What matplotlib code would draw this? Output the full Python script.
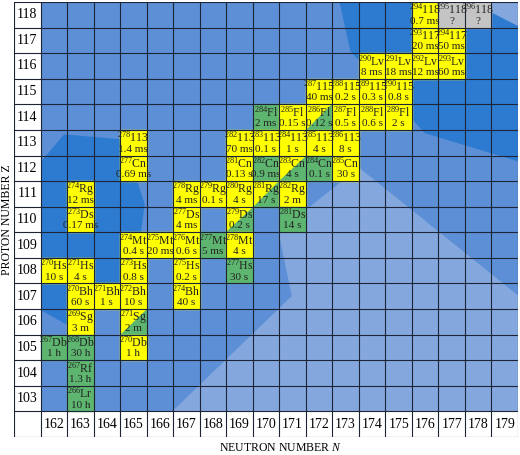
import matplotlib
matplotlib.use("Agg")
import matplotlib.pyplot as plt
from matplotlib.patches import Rectangle, Polygon

plt.rcParams['mathtext.fontset'] = 'custom'
plt.rcParams['mathtext.rm'] = 'Liberation Serif'
plt.rcParams['mathtext.it'] = 'Liberation Serif:italic'

N_ticks = list(range(162, 180))
Z_ticks = list(range(103, 119))

cell_N = [176,177,178, 176,177, 174,175,176,177, 172,173,174,175,
          170,171,172,173,174,175, 165,169,170,171,172,173,
          165,169,170,171,172,173, 163,167,168,169,170,171,
          163,167,169,171, 165,166,167,168,169,
          162,163,165,167,169, 163,164,165,167, 163,165,
          162,163,165, 163, 163]
cell_Z = [118]*3 + [117]*2 + [116]*4 + [115]*4 + [114]*6 + [113]*6 + [112]*6 + \
         [111]*6 + [110]*4 + [109]*5 + [108]*5 + [107]*4 + [106]*2 + [105]*3 + [104] + [103]
cell_A = [294,295,296, 293,294, 290,291,292,293, 287,288,289,290,
          284,285,286,287,288,289, 278,282,283,284,285,286,
          277,281,282,283,284,285, 274,278,279,280,281,282,
          273,277,279,281, 274,275,276,277,278,
          270,271,273,275,277, 270,271,272,274, 269,271,
          267,268,270, 267, 266]
cell_el = ["118","118","118", "117","117", "Lv","Lv","Lv","Lv", "115","115","115","115",
           "Fl","Fl","Fl","Fl","Fl","Fl", "113","113","113","113","113","113",
           "Cn","Cn","Cn","Cn","Cn","Cn", "Rg","Rg","Rg","Rg","Rg","Rg",
           "Ds","Ds","Ds","Ds", "Mt","Mt","Mt","Mt","Mt",
           "Hs","Hs","Hs","Hs","Hs", "Bh","Bh","Bh","Bh", "Sg","Sg",
           "Db","Db","Db", "Rf", "Lr"]
cell_t = ["0.7 ms","?","?", "20 ms","50 ms", "8 ms","18 ms","12 ms","60 ms",
          "40 ms","0.2 s","0.3 s","0.8 s",
          "2 ms","0.15 s","0.12 s","0.5 s","0.6 s","2 s",
          "1.4 ms","70 ms","0.1 s","1 s","4 s","8 s",
          "0.69 ms","0.13 s","0.9 ms","4 s","0.1 s","30 s",
          "12 ms","4 ms","0.1 s","4 s","17 s","2 m",
          "0.17 ms","4 ms","0.2 s","14 s",
          "0.4 s","20 ms","0.6 s","5 ms","4 s",
          "10 s","4 s","0.8 s","0.2 s","30 s",
          "60 s","1 s","10 s","40 s", "3 m","2 m",
          "1 h","30 h","1 h", "1.3 h", "10 h"]
cell_type = ["a","u","u", "a","a", "a","a","a","a", "a","a","a","a",
             "f","a","m","a","a","a", "a","a","a","a","a","a",
             "a","a","f","m","f","a", "a","a","a","a","m","a",
             "a","a","m","f", "a","a","a","f","a",
             "a","a","a","a","f", "a","a","a","a", "a","m",
             "f","f","a", "f", "f"]

YEL = "#ffff00"; GRN = "#5db56f"; GRY = "#c4c4c4"
BASE = "#5c8fd6"; DARK = "#2d7bd0"; LIGHT = "#84a8de"
SERIF = "Liberation Serif"

fig = plt.figure(figsize=(5.2, 4.55), dpi=100)
ax = fig.add_axes([14/520, 1 - 437/455, 504/520, 435/455])
x0, x1 = 160.5, 179.5
y0, y1 = 101.5, 118.5
ax.set_xlim(x0, x1); ax.set_ylim(y0, y1)
ax.axis("off")

ax.add_patch(Rectangle((161.5, 102.5), 18, 16, color=BASE, zorder=0))
ax.add_patch(Polygon([(166.5, 102.5), (171, 107.0), (170.5, 109.5), (173.5, 112.0),
                      (179.5, 107.0), (179.5, 102.5)], closed=True, color=LIGHT, zorder=0.5))
ax.add_patch(Polygon([(172.8, 118.5), (173.2, 116.6), (176.0, 113.4), (179.5, 112.3),
                      (179.5, 118.5)], closed=True, color=DARK, zorder=0.6))
ax.add_patch(Polygon([(177.8, 118.5), (179.5, 118.5), (179.5, 117.6)], closed=True,
                     color=LIGHT, zorder=0.7))
ax.add_patch(Polygon([(161.5, 106.5), (161.5, 112.2), (162.4, 113.3), (164.6, 113.1),
                      (165.4, 110.6), (165.1, 108.2), (163.8, 106.8), (162.7, 105.8)],
                     closed=True, color=DARK, zorder=0.6))

for n in N_ticks:
    ax.add_patch(Rectangle((n - 0.5, 101.5), 1, 1, facecolor="white", zorder=1))
    ax.text(n, 102, str(n), ha="center", va="center", fontsize=10,
            family=SERIF, zorder=5)
for z in Z_ticks:
    ax.add_patch(Rectangle((160.5, z - 0.5), 1, 1, facecolor="white", zorder=1))
    ax.text(161, z, str(z), ha="center", va="center", fontsize=10,
            family=SERIF, zorder=5)
ax.add_patch(Rectangle((160.5, 101.5), 1, 1, facecolor="white", zorder=1))

for n, z, a, el, t, ty in zip(cell_N, cell_Z, cell_A, cell_el, cell_t, cell_type):
    l, b = n - 0.5, z - 0.5
    if ty == "a":
        ax.add_patch(Rectangle((l, b), 1, 1, color=YEL, zorder=2))
    elif ty == "f":
        ax.add_patch(Rectangle((l, b), 1, 1, color=GRN, zorder=2))
    elif ty == "u":
        ax.add_patch(Rectangle((l, b), 1, 1, color=GRY, zorder=2))
    else:
        ax.add_patch(Polygon([(l, b), (l, b + 1), (l + 1, b + 1)], color=YEL, zorder=2))
        ax.add_patch(Polygon([(l, b), (l + 1, b), (l + 1, b + 1)], color=GRN, zorder=2))
    ax.text(n, z + 0.2, r"$^{\mathrm{%d}}$%s" % (a, el), ha="center", va="center",
            fontsize=8.5, family=SERIF, color="#222", zorder=5)
    ax.text(n, z - 0.25, t, ha="center", va="center", fontsize=8,
            family=SERIF, color="#222", zorder=5)

for n in range(161, 181):
    ax.plot([n - 0.5, n - 0.5], [y0, y1], color="#1c2436", lw=0.8, zorder=4)
for z in range(102, 120):
    ax.plot([x0, x1], [z - 0.5, z - 0.5], color="#1c2436", lw=0.8, zorder=4)

fig.text(7/520, 1 - 220/455, "PROTON NUMBER Z", rotation=90, ha="center", va="center",
         fontsize=8.5, family=SERIF)
fig.text(280/520, 1 - 448/455, "NEUTRON NUMBER $N$", ha="center", va="center",
         fontsize=8.5, family=SERIF)

fig.savefig("out.png", dpi=100)
